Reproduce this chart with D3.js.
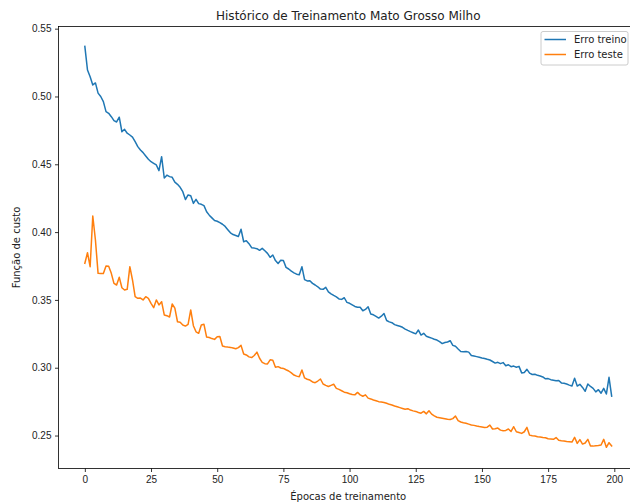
<!DOCTYPE html>
<html>
<head>
<meta charset="utf-8">
<script src="https://cdn.jsdelivr.net/npm/d3@7"></script>
<style>
  body { margin: 0; background: #fff; }
  svg { display: block; font-family: "DejaVu Sans", sans-serif; }
  .axis path, .axis line { stroke: #000; stroke-width: 0.8; }
  .axis text { fill: #222; font-size: 10px; }
</style>
</head>
<body>
<div id="chart"></div>
<script>
// loss per epoch
var erroTreino = [
  0.5370, 0.5195, 0.5146, 0.5085, 0.5100, 0.5025, 0.5000, 0.4962, 0.4888, 0.4876,
  0.4851, 0.4822, 0.4812, 0.4847, 0.4740, 0.4758, 0.4729, 0.4716, 0.4700, 0.4667,
  0.4630, 0.4605, 0.4586, 0.4561, 0.4537, 0.4519, 0.4507, 0.4495, 0.4453, 0.4556,
  0.4399, 0.4420, 0.4409, 0.4404, 0.4368, 0.4352, 0.4330, 0.4298, 0.4240, 0.4274,
  0.4268, 0.4212, 0.4242, 0.4210, 0.4205, 0.4195, 0.4150, 0.4125, 0.4105, 0.4085,
  0.4080, 0.4070, 0.4058, 0.4042, 0.4018, 0.3995, 0.3982, 0.3975, 0.3968, 0.4021,
  0.3929, 0.3937, 0.3915, 0.3885, 0.3882, 0.3878, 0.3866, 0.3880, 0.3862, 0.3843,
  0.3814, 0.3831, 0.3790, 0.3768, 0.3792, 0.3790, 0.3740, 0.3728, 0.3712, 0.3700,
  0.3690, 0.3686, 0.3745, 0.3650, 0.3640, 0.3642, 0.3622, 0.3610, 0.3597, 0.3580,
  0.3578, 0.3593, 0.3560, 0.3545, 0.3533, 0.3522, 0.3507, 0.3504, 0.3516, 0.3482,
  0.3475, 0.3464, 0.3452, 0.3446, 0.3446, 0.3420, 0.3430, 0.3450, 0.3396, 0.3390,
  0.3378, 0.3366, 0.3380, 0.3400, 0.3348, 0.3338, 0.3332, 0.3318, 0.3312, 0.3306,
  0.3298, 0.3285, 0.3275, 0.3266, 0.3258, 0.3250, 0.3278, 0.3241, 0.3254, 0.3232,
  0.3225, 0.3218, 0.3210, 0.3204, 0.3192, 0.3178, 0.3186, 0.3190, 0.3199, 0.3165,
  0.3158, 0.3138, 0.3120, 0.3118, 0.3120, 0.3115, 0.3090, 0.3086, 0.3082, 0.3077,
  0.3072, 0.3068, 0.3062, 0.3057, 0.3046, 0.3034, 0.3040, 0.3030, 0.3038, 0.3015,
  0.3022, 0.3008, 0.3012, 0.3004, 0.3010, 0.2962, 0.2965, 0.2988, 0.2960, 0.2950,
  0.2952, 0.2944, 0.2939, 0.2932, 0.2918, 0.2920, 0.2912, 0.2908, 0.2904, 0.2906,
  0.2888, 0.2885, 0.2880, 0.2872, 0.2865, 0.2922, 0.2865, 0.2878, 0.2855, 0.2826,
  0.2880, 0.2862, 0.2848, 0.2822, 0.2838, 0.2812, 0.2848, 0.2806, 0.2929, 0.2791
];
var erroTeste = [
  0.3770, 0.3848, 0.3745, 0.4119, 0.3942, 0.3696, 0.3694, 0.3694, 0.3750, 0.3748,
  0.3696, 0.3622, 0.3610, 0.3667, 0.3590, 0.3573, 0.3578, 0.3745, 0.3647, 0.3524,
  0.3512, 0.3514, 0.3500, 0.3524, 0.3512, 0.3475, 0.3443, 0.3500, 0.3463, 0.3487,
  0.3389, 0.3384, 0.3374, 0.3470, 0.3440, 0.3339, 0.3335, 0.3315, 0.3307, 0.3320,
  0.3426, 0.3310, 0.3265, 0.3254, 0.3315, 0.3320, 0.3226, 0.3223, 0.3215, 0.3209,
  0.3228, 0.3230, 0.3160, 0.3155, 0.3152, 0.3150, 0.3145, 0.3140, 0.3148, 0.3165,
  0.3101, 0.3094, 0.3080, 0.3075, 0.3090, 0.3115, 0.3070, 0.3040, 0.3030, 0.3028,
  0.3058, 0.3055, 0.3003, 0.3008, 0.2998, 0.2995, 0.2985, 0.2976, 0.2962, 0.2946,
  0.2938, 0.2934, 0.2983, 0.2925, 0.2915, 0.2909, 0.2895, 0.2890, 0.2902, 0.2917,
  0.2880, 0.2870, 0.2862, 0.2870, 0.2878, 0.2848, 0.2840, 0.2830, 0.2820, 0.2816,
  0.2808, 0.2802, 0.2800, 0.2818, 0.2800, 0.2790, 0.2800, 0.2776, 0.2770, 0.2762,
  0.2757, 0.2750, 0.2748, 0.2744, 0.2738, 0.2730, 0.2725, 0.2718, 0.2712, 0.2706,
  0.2700, 0.2694, 0.2698, 0.2688, 0.2682, 0.2678, 0.2670, 0.2665, 0.2678, 0.2660,
  0.2683, 0.2658, 0.2645, 0.2635, 0.2632, 0.2628, 0.2624, 0.2620, 0.2618, 0.2625,
  0.2644, 0.2610, 0.2600, 0.2594, 0.2590, 0.2584, 0.2578, 0.2575, 0.2570, 0.2566,
  0.2563, 0.2560, 0.2562, 0.2577, 0.2548, 0.2550, 0.2555, 0.2540, 0.2536, 0.2538,
  0.2548, 0.2530, 0.2565, 0.2528, 0.2522, 0.2516, 0.2528, 0.2560, 0.2503, 0.2498,
  0.2496, 0.2491, 0.2490, 0.2486, 0.2484, 0.2476, 0.2474, 0.2472, 0.2485, 0.2465,
  0.2462, 0.2460, 0.2456, 0.2454, 0.2452, 0.2487, 0.2442, 0.2470, 0.2437, 0.2445,
  0.2472, 0.2423, 0.2422, 0.2424, 0.2426, 0.2430, 0.2472, 0.2413, 0.2447, 0.2423
];
var xTicks = [0, 25, 50, 75, 100, 125, 150, 175, 200];
var yTicks = [0.25, 0.30, 0.35, 0.40, 0.45, 0.50, 0.55];
var seriesNames = ['Erro treino', 'Erro teste'];
var seriesColors = ['#1f77b4', '#ff7f0e'];

var W = 630, H = 502;
// plot box (right spine falls just outside the picture, as in the reference)
var mLeft = 58.5, mTop = 26.5, mBottom = 468.5, mRight = 638;

var svg = d3.select('#chart').append('svg')
  .attr('width', W)
  .attr('height', H);

// matplotlib style 5% margins around the data
var x = d3.scaleLinear().domain([-9.95, 208.95]).range([mLeft, mRight]);
var y = d3.scaleLinear().domain([0.2257, 0.5516]).range([mBottom, mTop]);

var line = d3.line()
  .x(function(d, i) { return x(i); })
  .y(function(d) { return y(d); });

var plot = svg.append('g');
[erroTreino, erroTeste].forEach(function(s, k) {
  plot.append('path')
    .datum(s)
    .attr('fill', 'none')
    .attr('stroke', seriesColors[k])
    .attr('stroke-width', 1.5)
    .attr('stroke-linejoin', 'round')
    .attr('stroke-linecap', 'square')
    .attr('d', line);
});

// axes
svg.append('g')
  .attr('class', 'axis')
  .attr('transform', 'translate(0,' + mBottom + ')')
  .call(d3.axisBottom(x).tickValues(xTicks).tickSize(3.5).tickPadding(3.5).tickSizeOuter(0))
  .select('.domain').remove();

svg.append('g')
  .attr('class', 'axis')
  .attr('transform', 'translate(' + mLeft + ',0)')
  .call(d3.axisLeft(y).tickValues(yTicks).tickFormat(d3.format('.2f')).tickSize(3.5).tickPadding(3.5).tickSizeOuter(0))
  .select('.domain').remove();

// spines
svg.append('rect')
  .attr('x', mLeft).attr('y', mTop)
  .attr('width', mRight - mLeft).attr('height', mBottom - mTop)
  .attr('fill', 'none')
  .attr('stroke', '#000')
  .attr('stroke-width', 0.8);

// title and labels
svg.append('text')
  .attr('x', (mLeft + mRight) / 2).attr('y', 20)
  .attr('text-anchor', 'middle')
  .attr('font-size', 12)
  .attr('fill', '#222')
  .text('Histórico de Treinamento Mato Grosso Milho');

svg.append('text')
  .attr('x', (mLeft + mRight) / 2).attr('y', 500)
  .attr('text-anchor', 'middle')
  .attr('font-size', 10)
  .attr('fill', '#222')
  .text('Épocas de treinamento');

svg.append('text')
  .attr('transform', 'translate(20,' + ((mTop + mBottom) / 2) + ') rotate(-90)')
  .attr('text-anchor', 'middle')
  .attr('font-size', 10)
  .attr('fill', '#222')
  .text('Função de custo');

// legend
var lg = svg.append('g').attr('transform', 'translate(541,31.5)');
lg.append('rect')
  .attr('width', 87).attr('height', 33.5)
  .attr('rx', 2)
  .attr('fill', '#fff')
  .attr('fill-opacity', 0.8)
  .attr('stroke', '#ccc')
  .attr('stroke-width', 1);
seriesNames.forEach(function(name, i) {
  var yy = 8 + i * 15;
  lg.append('line')
    .attr('x1', 3.5).attr('x2', 25)
    .attr('y1', yy).attr('y2', yy)
    .attr('stroke', seriesColors[i])
    .attr('stroke-width', 1.5);
  lg.append('text')
    .attr('x', 33).attr('y', yy + 3.5)
    .attr('font-size', 10)
    .attr('fill', '#222')
    .text(name);
});
</script>
</body>
</html>
